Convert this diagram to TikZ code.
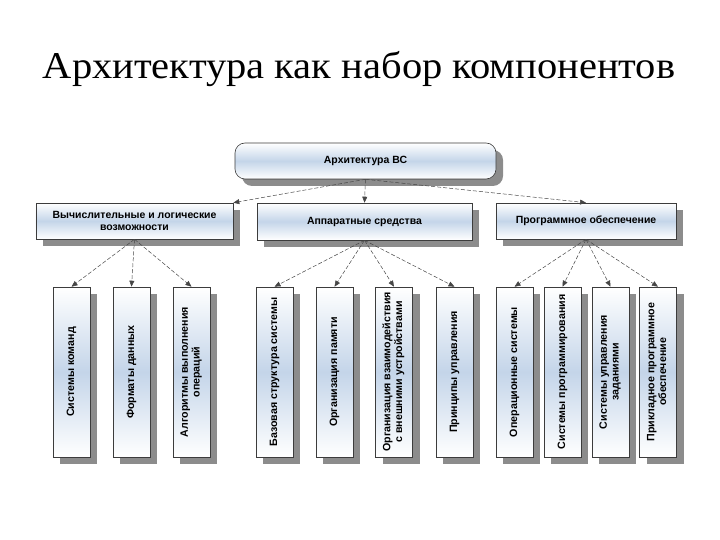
\documentclass[tikz,border=0pt]{standalone}
\usepackage{fontspec}
\setmainfont{Liberation Serif}
\setsansfont{Liberation Sans}
\usetikzlibrary{arrows.meta,shadows}

\definecolor{boxblue}{RGB}{196,213,233}
\definecolor{boxline}{RGB}{60,60,60}
\definecolor{arrowgray}{RGB}{70,70,70}

\tikzset{
    unitbox/.style={draw=boxline, line width=0.6bp, inner sep=0pt,
        top color=white, bottom color=white, middle color=boxblue,
        drop shadow={shadow xshift=7bp, shadow yshift=-7bp, fill=black!45, opacity=1},
        font=\sffamily\bfseries\fontsize{10.5}{12}\selectfont, align=center},
    partbox/.style={unitbox, minimum width=37bp, minimum height=170bp,
        font=\sffamily\bfseries\fontsize{10.7}{11.8}\selectfont},
    link/.style={draw=arrowgray, line width=0.5bp, dash pattern=on 4bp off 2bp,
        -{Triangle[width=5bp,length=6bp]}}
}

\begin{document}
\begin{tikzpicture}[x=1bp, y=-1bp]

    \useasboundingbox (0,0) rectangle (720,540);

    \node[anchor=base, font=\fontsize{38}{40}\selectfont] (title) at (359,79) {\scalebox{1.07}[1]{Архитектура как набор компонентов}};

    % top level
    \node[unitbox, rounded corners=10bp, minimum width=261bp, minimum height=36bp] (arch) at (365.5,161) {Архитектура ВС};

    % second level
    \node[unitbox, minimum width=197bp, minimum height=36bp] (calc) at (134.5,221) {Вычислительные и логические\\возможности};
    \node[unitbox, minimum width=215bp, minimum height=37bp] (hard) at (364.5,221.5) {Аппаратные средства};
    \node[unitbox, minimum width=180bp, minimum height=36bp] (soft) at (586,221) {Программное обеспечение};

    % third level
    \node[partbox] (cmd)   at (71.5,372)  {\rotatebox{90}{Системы команд}};
    \node[partbox] (fmt)   at (131.5,372) {\rotatebox{90}{Форматы данных}};
    \node[partbox] (alg)   at (191.5,372) {\rotatebox{90}{\begin{tabular}{@{}c@{}}Алгоритмы выполнения\\операций\end{tabular}}};
    \node[partbox] (base)  at (274.5,372) {\rotatebox{90}{Базовая структура системы}};
    \node[partbox] (mem)   at (334.5,372) {\rotatebox{90}{Организация памяти}};
    \node[partbox] (io)    at (394,372)   {\rotatebox{90}{\begin{tabular}{@{}c@{}}Организация взаимодействия\\с внешними устройствами\end{tabular}}};
    \node[partbox] (ctrl)  at (454.5,372) {\rotatebox{90}{Принципы управления}};
    \node[partbox] (os)    at (514.5,372) {\rotatebox{90}{Операционные системы}};
    \node[partbox] (prog)  at (562.5,372) {\rotatebox{90}{Системы программирования}};
    \node[partbox] (jobs)  at (610.5,372) {\rotatebox{90}{\begin{tabular}{@{}c@{}}Системы управления\\заданиями\end{tabular}}};
    \node[partbox] (apps)  at (658,372)   {\rotatebox{90}{\begin{tabular}{@{}c@{}}Прикладное программное\\обеспечение\end{tabular}}};

    % connectors
    \draw[link] (arch.south) -- (calc.north east);
    \draw[link] (arch.south) -- (hard.north);
    \draw[link] (arch.south) -- (soft.north);

    \foreach \p in {cmd,fmt,alg}
        \draw[link] (calc.south) -- (\p.north);
    \foreach \p in {base,mem,io,ctrl}
        \draw[link] (hard.south) -- (\p.north);
    \foreach \p in {os,prog,jobs,apps}
        \draw[link] (soft.south) -- (\p.north);

\end{tikzpicture}
\end{document}
